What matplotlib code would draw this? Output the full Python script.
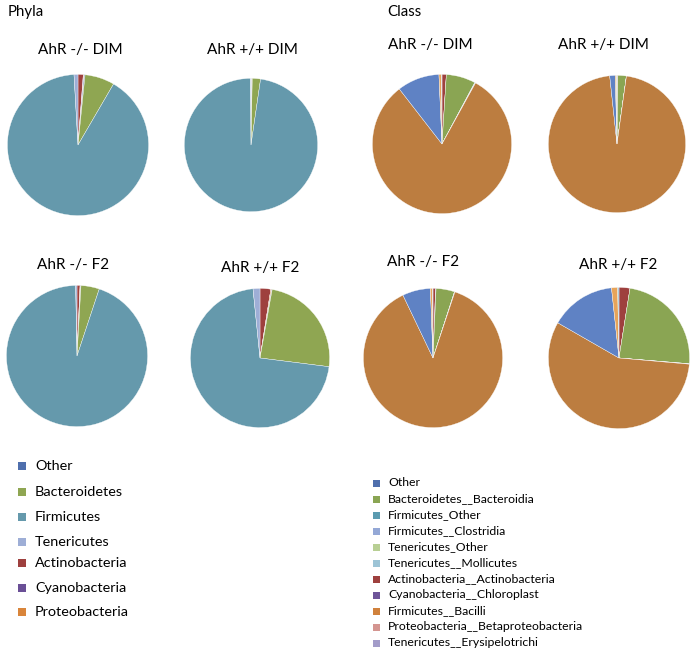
import matplotlib
matplotlib.use("Agg")
import matplotlib.pyplot as plt
from matplotlib.patches import Rectangle

W, H = 697, 652

# ---------------- data ----------------
phyla_labels = ["Other", "Bacteroidetes", "Firmicutes", "Tenericutes",
                "Actinobacteria", "Cyanobacteria", "Proteobacteria"]
phyla_colors = ["#4F6FAD", "#8FA652", "#6599AC", "#9EAED6",
                "#9E403E", "#6A4F96", "#D9853B"]
phyla_draw_order = ["Actinobacteria", "Cyanobacteria", "Proteobacteria", "Other",
                    "Bacteroidetes", "Firmicutes", "Tenericutes"]

phyla_ko_dim = [0.2, 6.8, 90.7, 0.9, 1.2, 0.1, 0.1]
phyla_wt_dim = [0.1, 2.0, 97.6, 0.1, 0.1, 0.0, 0.1]
phyla_ko_f2 = [0.1, 4.2, 94.6, 0.3, 0.7, 0.0, 0.1]
phyla_wt_f2 = [0.1, 24.2, 71.4, 1.6, 2.5, 0.0, 0.2]

class_labels = ["Other", "Bacteroidetes__Bacteroidia", "Firmicutes_Other",
                "Firmicutes__Clostridia", "Tenericutes_Other", "Tenericutes__Mollicutes",
                "Actinobacteria__Actinobacteria", "Cyanobacteria__Chloroplast",
                "Firmicutes__Bacilli", "Proteobacteria__Betaproteobacteria",
                "Tenericutes__Erysipelotrichi"]
class_colors = ["#5F82C4", "#8AA553", "#5B9BB0", "#94A8D6", "#B8CF94", "#9DC4D6",
                "#9E403E", "#6E5599", "#BC7D40", "#E7A45A", "#A39CC9"]
class_legend_colors = ["#4F6FAD", "#8AA553", "#5B9BB0", "#94A8D6", "#B8CF94", "#9DC4D6",
                       "#9E403E", "#6E5599", "#D0813C", "#D49590", "#A39CC9"]
class_draw_order = ["Actinobacteria__Actinobacteria", "Cyanobacteria__Chloroplast",
                    "Bacteroidetes__Bacteroidia", "Firmicutes_Other",
                    "Firmicutes__Clostridia", "Tenericutes_Other",
                    "Tenericutes__Erysipelotrichi", "Firmicutes__Bacilli", "Other",
                    "Proteobacteria__Betaproteobacteria", "Tenericutes__Mollicutes"]

class_ko_dim = [9.8, 6.8, 0.1, 0.1, 0.0, 0.1, 1.0, 0.0, 81.5, 0.6, 0.0]
class_wt_dim = [1.3, 2.0, 0.0, 0.0, 0.0, 0.1, 0.2, 0.0, 96.1, 0.3, 0.0]
class_ko_f2 = [6.5, 4.3, 0.0, 0.1, 0.0, 0.1, 0.6, 0.1, 87.8, 0.5, 0.0]
class_wt_f2 = [15.0, 23.8, 0.0, 0.1, 0.0, 0.3, 2.5, 0.0, 56.9, 1.4, 0.0]

titles = ["AhR -/- DIM", "AhR +/+ DIM", "AhR -/- F2", "AhR +/+ F2"]

FONT = "Lato"
plt.rcParams["font.family"] = [FONT, "DejaVu Sans"]

fig = plt.figure(figsize=(W / 100, H / 100), dpi=100)


def fx(x):
    return x / W


def fy(y):
    return 1 - y / H


def draw_pie(values, labels, colors, order, cx, cy, r):
    ax = fig.add_axes([fx(cx - r), fy(cy + r), 2 * r / W, 2 * r / H])
    idx = [labels.index(n) for n in order]
    vals = [values[i] for i in idx]
    cols = [colors[i] for i in idx]
    ax.pie(vals, colors=cols, startangle=90, counterclock=False,
           wedgeprops=dict(edgecolor="white", linewidth=0.25))
    ax.set_xlim(-1.02, 1.02)
    ax.set_ylim(-1.02, 1.02)
    ax.set_aspect("auto")
    ax.axis("off")


# phyla pies
draw_pie(phyla_ko_dim, phyla_labels, phyla_colors, phyla_draw_order, 78, 145, 72)
draw_pie(phyla_wt_dim, phyla_labels, phyla_colors, phyla_draw_order, 251, 145, 68)
draw_pie(phyla_ko_f2, phyla_labels, phyla_colors, phyla_draw_order, 77, 356, 72)
draw_pie(phyla_wt_f2, phyla_labels, phyla_colors, phyla_draw_order, 260, 358, 71)
# class pies
draw_pie(class_ko_dim, class_labels, class_colors, class_draw_order, 442, 144, 71)
draw_pie(class_wt_dim, class_labels, class_colors, class_draw_order, 617, 144, 70)
draw_pie(class_ko_f2, class_labels, class_colors, class_draw_order, 433, 358, 71)
draw_pie(class_wt_f2, class_labels, class_colors, class_draw_order, 619, 358, 72)

# headings
fig.text(fx(8), fy(12), "Phyla", fontsize=10.8, ha="left", va="center")
fig.text(fx(387), fy(12), "Class", fontsize=10.8, ha="left", va="center")

title_pos = [(80, 50), (252, 50), (73, 265), (260, 268)]
for t, (x, y) in zip(titles, title_pos):
    fig.text(fx(x), fy(y), t, fontsize=11, ha="center", va="center")
title_pos_c = [(430, 45), (603, 45), (423, 262), (618, 265)]
for t, (x, y) in zip(titles, title_pos_c):
    fig.text(fx(x), fy(y), t, fontsize=11, ha="center", va="center")

# phyla legend
p_rows = [466, 492, 517, 542, 563, 588, 612]
for lab, col, y in zip(phyla_labels, phyla_colors, p_rows):
    fig.add_artist(Rectangle((fx(18), fy(y + 4)), 8 / W, 8 / H, transform=fig.transFigure,
                             facecolor=col, edgecolor="none"))
    fig.text(fx(35), fy(y), lab, fontsize=10.4, ha="left", va="center")

# class legend
for i, (lab, col) in enumerate(zip(class_labels, class_legend_colors)):
    y = 483 + 16 * i
    fig.add_artist(Rectangle((fx(373), fy(y + 3.5)), 7 / W, 7 / H, transform=fig.transFigure,
                             facecolor=col, edgecolor="none"))
    fig.text(fx(388), fy(y), lab, fontsize=8.8, ha="left", va="center")

fig.savefig("out.png", dpi=100)
